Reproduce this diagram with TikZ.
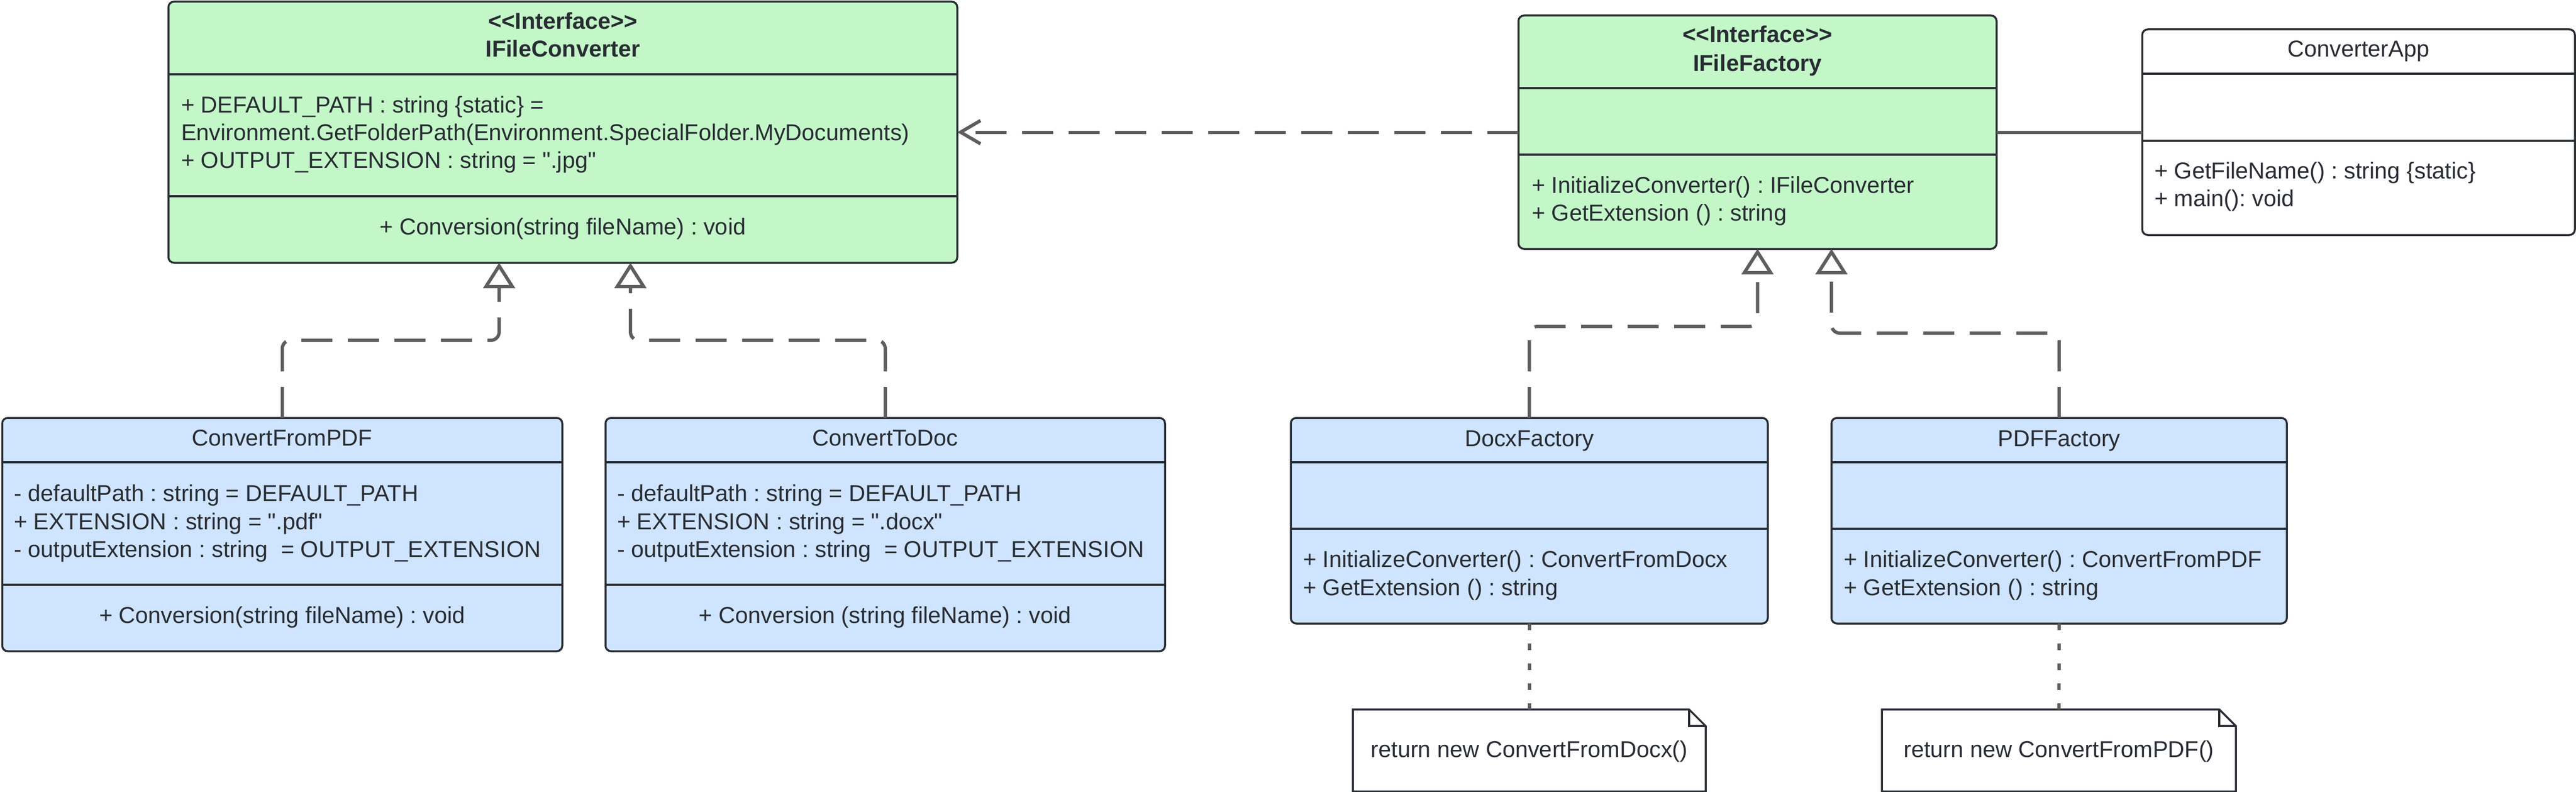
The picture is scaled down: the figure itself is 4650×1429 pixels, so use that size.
\documentclass[tikz,border=0pt]{standalone}
\usepackage{fontspec}
\setmainfont{Liberation Sans}
\newfontfamily\lsans{Liberation Sans}
\usetikzlibrary{arrows.meta}
\definecolor{ink}{HTML}{282C33}
\definecolor{gfill}{HTML}{C3F7C8}
\definecolor{bfill}{HTML}{CFE4FF}
\definecolor{conn}{HTML}{5E5E5E}
\newcommand\umlfont{\lsans\fontsize{41.5}{50}\selectfont\frenchspacing}
\tikzset{
  umlbox/.style={draw=ink, line width=3.5pt, rounded corners=10pt, inner sep=0pt, outer sep=0pt},
  divider/.style={draw=ink, line width=3.5pt},
  txt/.style={font=\umlfont, text=ink, inner sep=0pt, outer sep=0pt, text height=30pt, text depth=9pt},
  lt/.style={txt, anchor=base west},
  ct/.style={txt, anchor=base},
  bt/.style={txt, anchor=base, font=\umlfont\bfseries},
  notebox/.style={txt, minimum height=148pt, inner sep=0pt},
  notedraw/.style={draw=ink, line width=3.5pt, fill=white},
  link/.style={draw=conn, line width=6pt},
  realize/.style={link, dash pattern=on 56pt off 28pt, rounded corners=15pt, -{Triangle[open, length=46pt, width=57pt]}},
  depend/.style={link, dash pattern=on 56pt off 28pt, -{Straight Barb[length=36pt, width=42pt]}},
  dotlink/.style={link, dash pattern=on 12pt off 24pt},
}
\begin{document}
\begin{tikzpicture}[x=1pt,y=-1pt]
\useasboundingbox (0,0) rectangle (4650,1429);

% ---------- IFileConverter ----------
\node[umlbox, fill=gfill, minimum width=1424pt, minimum height=471pt] (ifc) at (1016,238.5) {};
\draw[divider] (ifc.west |- 0,134) -- (ifc.east |- 0,134);
\draw[divider] (ifc.west |- 0,354) -- (ifc.east |- 0,354);
\node[bt] (ifcS) at (1016,53) {<<Interface>>};
\node[bt] (ifcN) at (1016,102) {IFileConverter};
\node[lt] (ifcA1) at (327,203) {+ DEFAULT\_PATH : string \{static\} =};
\node[lt] (ifcA2) at (327,253) {Environment.GetFolderPath(Environment.SpecialFolder.MyDocuments)};
\node[lt] (ifcA3) at (327,303) {+ OUTPUT\_EXTENSION : string = ".jpg"};
\node[ct] (ifcM1) at (1016,423) {+ Conversion(string fileName) : void};

% ---------- IFileFactory ----------
\node[umlbox, fill=gfill, minimum width=863pt, minimum height=421pt] (iff) at (3172.5,238.5) {};
\draw[divider] (iff.west |- 0,159) -- (iff.east |- 0,159);
\draw[divider] (iff.west |- 0,279) -- (iff.east |- 0,279);
\node[bt] (iffS) at (3172.5,77) {<<Interface>>};
\node[bt] (iffN) at (3172.5,128) {IFileFactory};
\node[lt] (iffM1) at (2765,348) {+ InitializeConverter() : IFileConverter};
\node[lt] (iffM2) at (2765,398) {+ GetExtension () : string};

% ---------- ConverterApp ----------
\node[umlbox, fill=white, minimum width=781pt, minimum height=371pt] (app) at (4257.5,238.5) {};
\draw[divider] (app.west |- 0,133) -- (app.east |- 0,133);
\draw[divider] (app.west |- 0,254) -- (app.east |- 0,254);
\node[ct] (appN) at (4257.5,102) {ConverterApp};
\node[lt] (appM1) at (3889,322) {+ GetFileName() : string \{static\}};
\node[lt] (appM2) at (3889,372) {+ main(): void};

% ---------- ConvertFromPDF ----------
\node[umlbox, fill=bfill, minimum width=1011pt, minimum height=421pt] (cpdf) at (509.5,964.5) {};
\draw[divider] (cpdf.west |- 0,834) -- (cpdf.east |- 0,834);
\draw[divider] (cpdf.west |- 0,1055) -- (cpdf.east |- 0,1055);
\node[ct] (cpdfN) at (509.5,804) {ConvertFromPDF};
\node[lt] (cpdfA1) at (25,904) {- defaultPath : string = DEFAULT\_PATH};
\node[lt] (cpdfA2) at (25,955) {+ EXTENSION : string = ".pdf"};
\node[lt] (cpdfA3) at (25,1005) {- outputExtension : string~ = OUTPUT\_EXTENSION};
\node[ct] (cpdfM1) at (509.5,1124) {+ Conversion(string fileName) : void};

% ---------- ConvertToDoc ----------
\node[umlbox, fill=bfill, minimum width=1010pt, minimum height=421pt] (ctd) at (1598,964.5) {};
\draw[divider] (ctd.west |- 0,834) -- (ctd.east |- 0,834);
\draw[divider] (ctd.west |- 0,1055) -- (ctd.east |- 0,1055);
\node[ct] (ctdN) at (1598,804) {ConvertToDoc};
\node[lt] (ctdA1) at (1114,904) {- defaultPath : string = DEFAULT\_PATH};
\node[lt] (ctdA2) at (1114,955) {+ EXTENSION : string = ".docx"};
\node[lt] (ctdA3) at (1114,1005) {- outputExtension : string~ = OUTPUT\_EXTENSION};
\node[ct] (ctdM1) at (1598,1124) {+ Conversion (string fileName) : void};

% ---------- DocxFactory ----------
\node[umlbox, fill=bfill, minimum width=861pt, minimum height=371pt] (dxf) at (2760.5,939.5) {};
\draw[divider] (dxf.west |- 0,834) -- (dxf.east |- 0,834);
\draw[divider] (dxf.west |- 0,954) -- (dxf.east |- 0,954);
\node[ct] (dxfN) at (2760.5,805) {DocxFactory};
\node[lt] (dxfM1) at (2352,1023) {+ InitializeConverter() : ConvertFromDocx};
\node[lt] (dxfM2) at (2352,1074) {+ GetExtension () : string};

% ---------- PDFFactory ----------
\node[umlbox, fill=bfill, minimum width=822pt, minimum height=371pt] (pdff) at (3717,939.5) {};
\draw[divider] (pdff.west |- 0,834) -- (pdff.east |- 0,834);
\draw[divider] (pdff.west |- 0,954) -- (pdff.east |- 0,954);
\node[ct] (pdffN) at (3717,805) {PDFFactory};
\node[lt] (pdffM1) at (3328,1023) {+ InitializeConverter() : ConvertFromPDF};
\node[lt] (pdffM2) at (3328,1074) {+ GetExtension () : string};

% ---------- Notes ----------
\node[notebox, minimum width=637pt] (n1) at (2760.5,1354) {};
\draw[notedraw] (n1.north west) -- ([xshift=-30pt]n1.north east) -- ([yshift=-30pt]n1.north east) -- (n1.south east) -- (n1.south west) -- cycle;
\draw[notedraw, fill=none] ([xshift=-30pt]n1.north east) -- ([xshift=-30pt,yshift=-30pt]n1.north east) -- ([yshift=-30pt]n1.north east);
\node[ct] (n1T) at (2760.5,1366) {return new ConvertFromDocx()};

\node[notebox, minimum width=639pt] (n2) at (3716.5,1354) {};
\draw[notedraw] (n2.north west) -- ([xshift=-30pt]n2.north east) -- ([yshift=-30pt]n2.north east) -- (n2.south east) -- (n2.south west) -- cycle;
\draw[notedraw, fill=none] ([xshift=-30pt]n2.north east) -- ([xshift=-30pt,yshift=-30pt]n2.north east) -- ([yshift=-30pt]n2.north east);
\node[ct] (n2T) at (3716.5,1366) {return new ConvertFromPDF()};

% ---------- Connectors ----------
\draw[depend] (iff.west) -- (ifc.east);
\draw[link] (iff.east) -- (app.west);

\draw[realize] (cpdf.north) -- (cpdf.north |- 0,614) -- (901,614) -- (ifc.south -| 901,0);
\draw[realize] (ctd.north) -- (ctd.north |- 0,614) -- (1138,614) -- (ifc.south -| 1138,0);
\draw[realize] (dxf.north) -- (dxf.north |- 0,589) -- (3172.5,589) -- (iff.south -| 3172.5,0);
\draw[realize] (pdff.north) -- (pdff.north |- 0,601) -- (3306,601) -- (iff.south -| 3306,0);

\draw[dotlink] (dxf.south) -- (n1.north);
\draw[dotlink] (pdff.south) -- (n2.north);
\end{tikzpicture}
\end{document}
